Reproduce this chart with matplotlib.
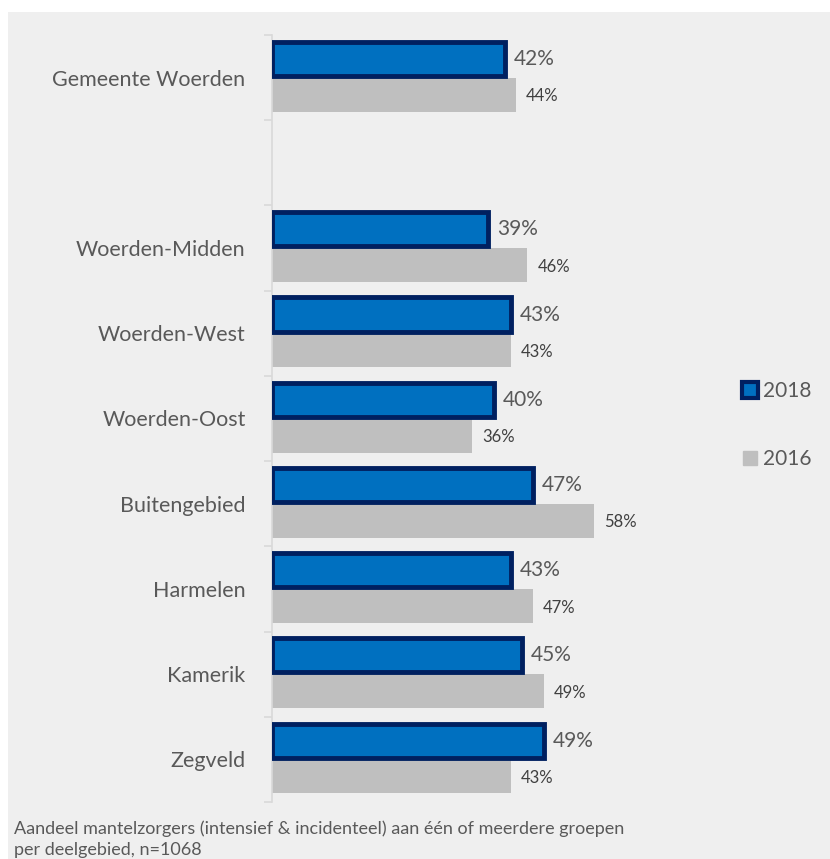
import matplotlib
matplotlib.use("Agg")
import matplotlib.pyplot as plt
from matplotlib.lines import Line2D
from matplotlib.patches import Rectangle
import numpy as np

categories = ["Gemeente Woerden", "", "Woerden-Midden", "Woerden-West", "Woerden-Oost",
              "Buitengebied", "Harmelen", "Kamerik", "Zegveld"]
v2018 = [42, None, 39, 43, 40, 47, 43, 45, 49]
v2016 = [44, None, 46, 43, 36, 58, 47, 49, 43]
series_names = ["2018", "2016"]
caption = ("Aandeel mantelzorgers (intensief & incidenteel) aan één of meerdere groepen\n"
           "per deelgebied, n=1068")

plt.rcParams['font.family'] = ['Lato', 'DejaVu Sans']

blue = "#0070C0"
navy = "#002060"
grey = "#BFBFBF"
txt = "#595959"
bg = "#EFEFEF"

W, H = 830, 859
fig = plt.figure(figsize=(W / 100, H / 100), dpi=100, facecolor="white")
fig.patches.append(Rectangle((8 / W, 0), 1, 1 - 12 / H, transform=fig.transFigure,
                             facecolor=bg, edgecolor="none", zorder=-10))

left, right, top, bottom = 272, 700, 35, 802
ax = fig.add_axes([left / W, 1 - bottom / H, (right - left) / W, (bottom - top) / H])
ax.set_facecolor("none")
px_per_pct = 5.55
ax.set_xlim(0, (right - left) / px_per_pct)
ax.set_ylim(len(categories) - 0.5, -0.5)

h = 0.4
for i, (a, b) in enumerate(zip(v2018, v2016)):
    if a is not None:
        ax.barh(i - 0.22, a, height=h, color=blue, edgecolor=navy, linewidth=3.5, zorder=3)
        ax.text(a + 1.6, i - 0.22, f"{a}%", va="center", ha="left", fontsize=15, color=txt)
    if b is not None:
        ax.barh(i + 0.2, b, height=h, color=grey, edgecolor="none", zorder=2)
        ax.text(b + 1.8, i + 0.22, f"{b}%", va="center", ha="left", fontsize=12,
                color="#404040")

for s in ["top", "right", "bottom"]:
    ax.spines[s].set_visible(False)
ax.spines["left"].set_color("#D9D9D9")
ax.spines["left"].set_linewidth(1.2)
ax.set_xticks([])
ax.set_yticks(np.arange(-0.5, len(categories), 1.0))
ax.set_yticklabels([])
ax.tick_params(axis="y", which="major", length=6, color="#D9D9D9", width=1.2)
ax.set_yticks(np.arange(len(categories)), minor=True)
ax.set_yticklabels(categories, minor=True, fontsize=15.5, color=txt)
ax.tick_params(axis="y", which="minor", length=0, pad=19)

handles = [
    Line2D([], [], marker="s", linestyle="none", markersize=11, markerfacecolor=blue,
           markeredgecolor=navy, markeredgewidth=3),
    Line2D([], [], marker="s", linestyle="none", markersize=10, markerfacecolor=grey,
           markeredgecolor=grey),
]
fig.legend(handles, series_names, loc="center left", bbox_to_anchor=(723 / W, 1 - 425 / H),
           frameon=False, fontsize=15, labelcolor=txt, labelspacing=2.3,
           handlelength=0.8, handletextpad=0.2)

fig.text(14 / W, 1 - 839 / H, caption, ha="left", va="center", fontsize=13, color=txt,
         linespacing=1.35)

fig.savefig("out.png", dpi=100, facecolor=fig.get_facecolor())
